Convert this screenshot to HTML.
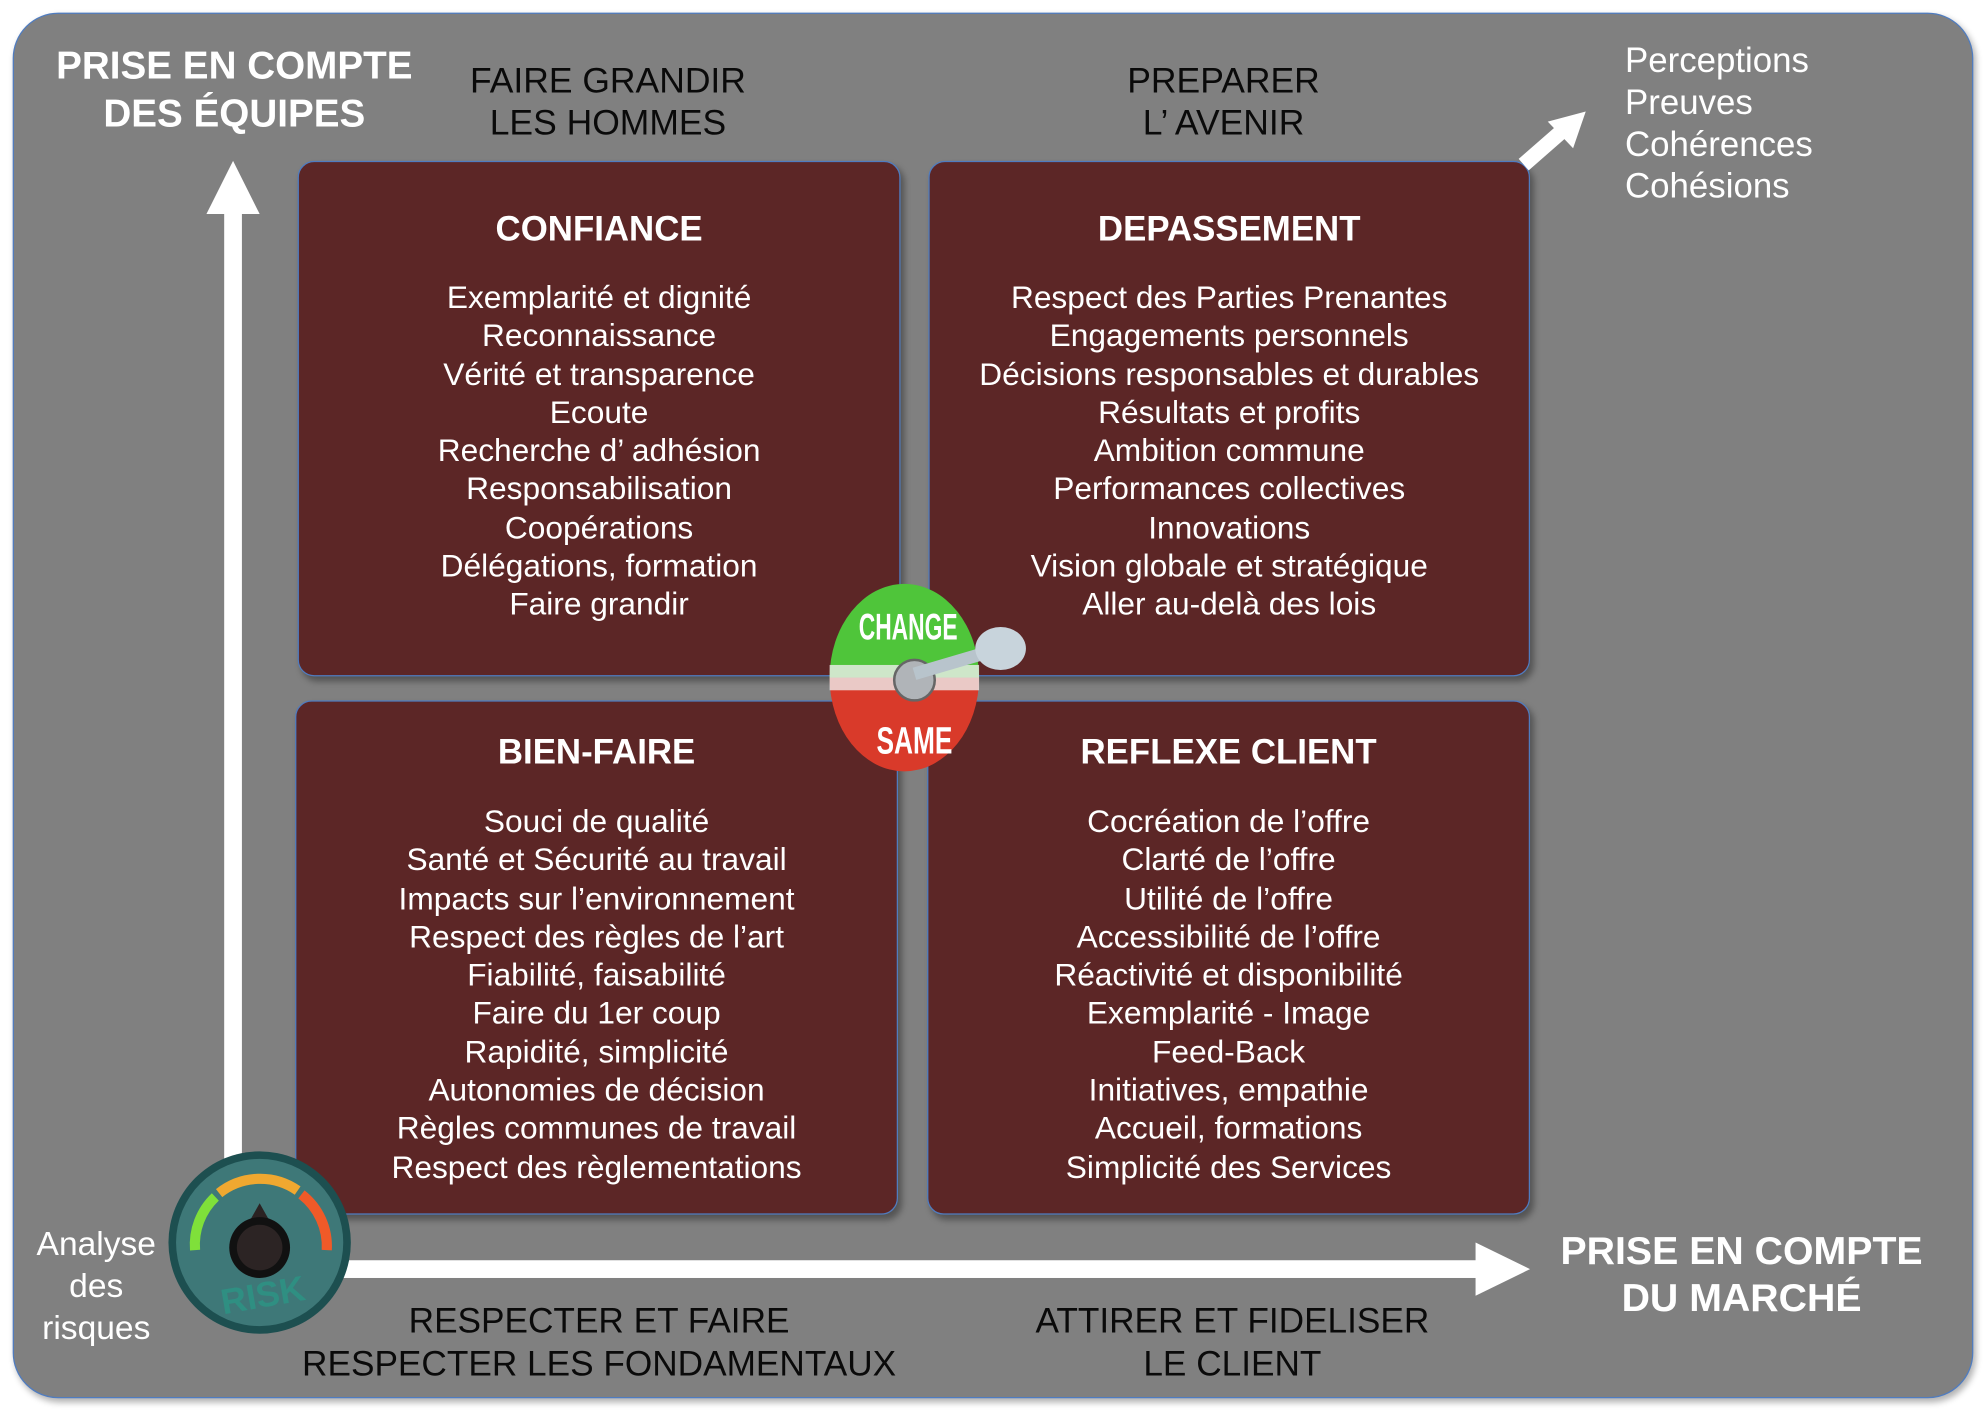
<!DOCTYPE html>
<html><head><meta charset="utf-8"><style>
html,body{margin:0;padding:0;background:#fff;width:1986px;height:1410px;overflow:hidden}
#r{position:absolute;left:0;top:0;width:1568px;height:1113.2px;transform:scale(1.26658);transform-origin:0 0;font-family:"Liberation Sans",Arial,sans-serif}
.a{position:absolute}
.panel{left:10px;top:10px;width:1546px;height:1092px;background:#808080;border:1.5px solid #4f7cc0;border-radius:36px;box-shadow:2px 3px 5px rgba(0,0,0,.3)}
.box{position:absolute;background:#5c2626;border:1.5px solid #4f7cc0;border-radius:13px;box-shadow:3px 4px 5px rgba(0,0,0,.35);color:#fff;text-align:center}
.box h2{margin:0;position:absolute;left:0;right:0;font-size:27.5px;font-weight:bold;line-height:30px}
.box .l{position:absolute;left:0;right:0;font-size:25px;line-height:30.3px}
.c{text-align:center;position:absolute}
</style></head><body><div id="r">
<div class="a panel"></div>

<div class="box" style="left:235px;top:127px;width:474px;height:405px">
<h2 style="top:38px">CONFIANCE</h2>
<div class="l" style="top:92px">Exemplarité et dignité<br>Reconnaissance<br>Vérité et transparence<br>Ecoute<br>Recherche d’ adhésion<br>Responsabilisation<br>Coopérations<br>Délégations, formation<br>Faire grandir</div></div>

<div class="box" style="left:733px;top:127px;width:473px;height:405px">
<h2 style="top:38px">DEPASSEMENT</h2>
<div class="l" style="top:92px">Respect des Parties Prenantes<br>Engagements personnels<br>Décisions responsables et durables<br>Résultats et profits<br>Ambition commune<br>Performances collectives<br>Innovations<br>Vision globale et stratégique<br>Aller au-delà des lois</div></div>

<div class="box" style="left:233px;top:553px;width:474px;height:404px">
<h2 style="top:25px">BIEN-FAIRE</h2>
<div class="l" style="top:80px">Souci de qualité<br>Santé et Sécurité au travail<br>Impacts sur l’environnement<br>Respect des règles de l’art<br>Fiabilité, faisabilité<br>Faire du 1er coup<br>Rapidité, simplicité<br>Autonomies de décision<br>Règles communes de travail<br>Respect des règlementations</div></div>

<div class="box" style="left:732px;top:553px;width:474px;height:404px">
<h2 style="top:25px">REFLEXE CLIENT</h2>
<div class="l" style="top:80px">Cocréation de l’offre<br>Clarté de l’offre<br>Utilité de l’offre<br>Accessibilité de l’offre<br>Réactivité et disponibilité<br>Exemplarité - Image<br>Feed-Back<br>Initiatives, empathie<br>Accueil, formations<br>Simplicité des Services</div></div>

<svg class="a" style="left:0;top:0" width="1568" height="1113">
<rect x="177" y="166" width="14" height="770" fill="#fff"/>
<polygon points="184,127 205,169 163,169" fill="#fff"/>
<rect x="258" y="995" width="910" height="14" fill="#fff"/>
<polygon points="1208,1002 1165,981 1165,1023" fill="#fff"/>
<line x1="1203" y1="130" x2="1235" y2="102" stroke="#fff" stroke-width="12"/>
<polygon points="1252,88 1222,96 1242,117" fill="#fff"/>
<circle cx="205" cy="981" r="72" fill="#1d4f50"/>
<circle cx="205" cy="981" r="66" fill="#3e7878"/>
<path d="M154,987 A52,52 0 0 1 170,945" stroke="#7fe03a" stroke-width="8" fill="none"/>
<path d="M173,942 A52,52 0 0 1 235,940" stroke="#f0a830" stroke-width="8" fill="none"/>
<path d="M238,943 A52,52 0 0 1 258,987" stroke="#f05a28" stroke-width="8" fill="none"/>
<polygon points="205,950 196,966 214,966" fill="#2a2222"/>
<circle cx="205" cy="985" r="24" fill="#111"/>
<circle cx="205" cy="985" r="18" fill="#2c2424"/>
<text x="208" y="1032" font-family="Liberation Sans" font-weight="bold" font-size="28" fill="#2f8f82" text-anchor="middle" transform="rotate(-10 208 1025)">RISK</text>
<path d="M655,535 A59,74 0 0 1 773,535 Z" fill="#4fc53a"/>
<path d="M655,535 A59,74 0 0 0 773,535 Z" fill="#d93a2a"/>
<rect x="655" y="525" width="118" height="20" fill="#eee" opacity=".8"/>
<circle cx="722" cy="537" r="16" fill="#b0b4b8" stroke="#666" stroke-width="2"/>
<line x1="722" y1="532" x2="790" y2="512" stroke="#b8c4cc" stroke-width="10"/>
<ellipse cx="790" cy="512" rx="20" ry="17" fill="#c8d4dc"/>
<text x="717" y="505" font-family="Liberation Sans" font-weight="bold" font-size="29" fill="#fff" text-anchor="middle" textLength="78" lengthAdjust="spacingAndGlyphs">CHANGE</text>
<text x="722" y="595" font-family="Liberation Sans" font-weight="bold" font-size="30" fill="#fff" text-anchor="middle" textLength="60" lengthAdjust="spacingAndGlyphs">SAME</text>
</svg>

<div class="c" style="left:20px;width:330px;top:33px;color:#fff;font-weight:bold;font-size:30.5px;line-height:38px">PRISE EN COMPTE<br>DES ÉQUIPES</div>
<div class="c" style="left:330px;width:300px;top:47px;color:#0a0a0a;font-size:28px;line-height:33px">FAIRE GRANDIR<br>LES HOMMES</div>
<div class="c" style="left:816px;width:300px;top:47px;color:#0a0a0a;font-size:28px;line-height:33px">PREPARER<br>L’ AVENIR</div>
<div class="a" style="left:1283px;top:31px;color:#fff;font-size:27.5px;line-height:33px">Perceptions<br>Preuves<br>Cohérences<br>Cohésions</div>
<div class="c" style="left:1200px;width:350px;top:969px;color:#fff;font-weight:bold;font-size:31px;line-height:37px">PRISE EN COMPTE<br>DU MARCHÉ</div>
<div class="c" style="left:223px;width:500px;top:1026px;color:#0a0a0a;font-size:27.8px;line-height:34px">RESPECTER ET FAIRE<br>RESPECTER LES FONDAMENTAUX</div>
<div class="c" style="left:773px;width:400px;top:1026px;color:#0a0a0a;font-size:27.8px;line-height:34px">ATTIRER ET FIDELISER<br>LE CLIENT</div>
<div class="c" style="left:16px;width:120px;top:966px;color:#fff;font-size:26.5px;line-height:33px">Analyse<br>des<br>risques</div>
</div></body></html>
